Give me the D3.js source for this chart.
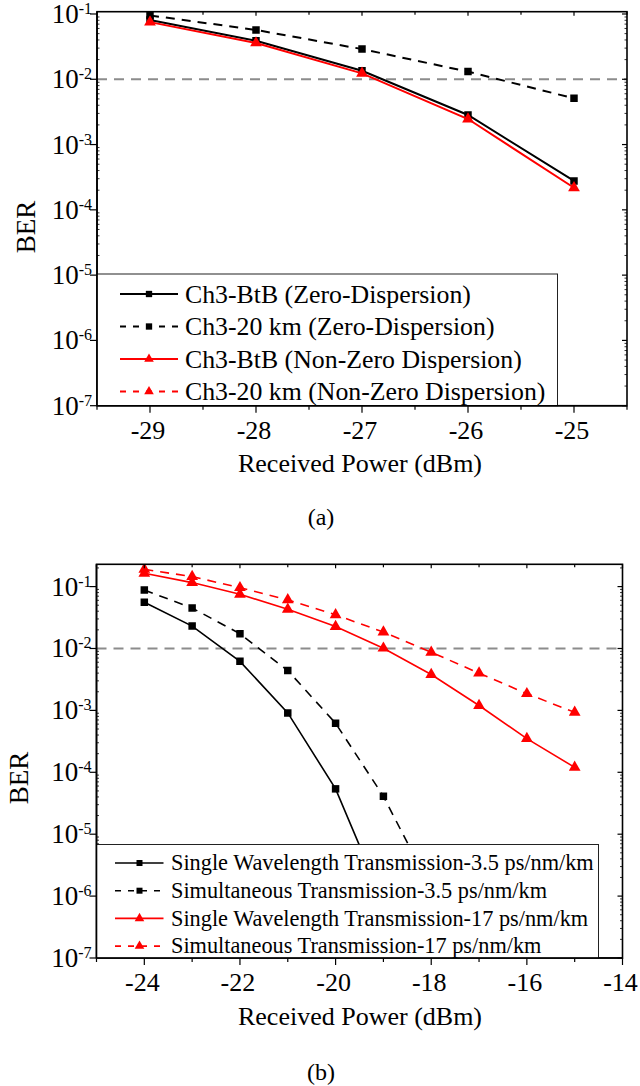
<!DOCTYPE html>
<html>
<head>
<meta charset="utf-8">
<script src="https://cdn.jsdelivr.net/npm/d3@7"></script>
<style>
  body { margin: 0; background: #fff; }
</style>
</head>
<body>
<svg id="fig" width="640" height="1086" font-family="Liberation Serif, Times New Roman, DejaVu Serif, serif"></svg>
<script>
// ---------- Panel (a): channel 3, zero vs non-zero dispersion fibre ----------
const powerA = [-29, -28, -27, -26, -25];
const btbZeroA = [0.081, 0.039, 0.0135, 0.00284, 0.000277];
const km20ZeroA = [0.095, 0.057, 0.029, 0.0131, 0.0051];
const btbNonZeroA = [0.075, 0.036, 0.0123, 0.00246, 0.000218];
const km20NonZeroA = [];          // no visible points in this panel
const legendA = [
  "Ch3-BtB (Zero-Dispersion)",
  "Ch3-20 km (Zero-Dispersion)",
  "Ch3-BtB (Non-Zero Dispersion)",
  "Ch3-20 km (Non-Zero Dispersion)"
];
const xTicksA = [-29, -28, -27, -26, -25];

// ---------- Panel (b): single-wavelength vs simultaneous transmission ----------
const powerSingle35 = [-24, -23, -22, -21, -20, -19];
const single35 = [0.056, 0.023, 0.0062, 0.00091, 5.4e-5, 8e-7];
const powerSimul35 = [-24, -23, -22, -21, -20, -19, -18];
const simul35 = [0.088, 0.045, 0.0173, 0.0044, 0.00062, 4.1e-5, 1.3e-6];
const power17 = [-24, -23, -22, -21, -20, -19, -18, -17, -16, -15];
const single17 = [0.164, 0.116, 0.075, 0.043, 0.0226, 0.0101, 0.0038, 0.0012, 0.00035, 0.00012];
const simul17 = [0.19, 0.145, 0.096, 0.061, 0.035, 0.0184, 0.0087, 0.0040, 0.00186, 0.00093];
const legendB = [
  "Single Wavelength Transmission-3.5 ps/nm/km",
  "Simultaneous Transmission-3.5 ps/nm/km",
  "Single Wavelength Transmission-17 ps/nm/km",
  "Simultaneous Transmission-17 ps/nm/km"
];
const xTicksB = [-24, -22, -20, -18, -16, -14];

// shared
const yTickExps = [-1, -2, -3, -4, -5, -6, -7];
const fecLimit = 1e-2;

const svg = d3.select("#fig");

function drawPanel(o) {
  const g = svg.append("g");
  const x = d3.scaleLinear().domain(o.xDomain).range(o.xRange);
  const y = d3.scaleLog().domain(o.yDomain).range(o.yRange);
  const [x0, x1] = o.xRange;
  const [yb, yt] = o.yRange;

  const clipId = "clip-" + o.id;
  g.append("clipPath").attr("id", clipId)
    .append("rect").attr("x", x0).attr("y", yt).attr("width", x1 - x0).attr("height", yb - yt);

  // FEC threshold line
  g.append("line")
    .attr("x1", x0).attr("x2", x1)
    .attr("y1", y(fecLimit)).attr("y2", y(fecLimit))
    .attr("stroke", "#8c8c8c").attr("stroke-width", 2)
    .attr("stroke-dasharray", "10,7");

  // data series
  const plot = g.append("g").attr("clip-path", `url(#${clipId})`);
  o.series.forEach(s => {
    const pts = s.x.map((v, i) => [v, s.y[i]]);
    if (!pts.length) return;
    const line = d3.line().x(d => x(d[0])).y(d => y(d[1]));
    plot.append("path").attr("d", line(pts))
      .attr("fill", "none").attr("stroke", s.color)
      .attr("stroke-width", o.lineWidth)
      .attr("stroke-dasharray", s.dash ? o.dash : null);
    const sym = s.marker === "square"
      ? d3.symbol(d3.symbolSquare, o.squareSize)
      : d3.symbol(d3.symbolTriangle, o.triSize);
    plot.selectAll(null).data(pts).enter().append("path")
      .attr("d", sym)
      .attr("transform", d => `translate(${x(d[0])},${y(d[1])})`)
      .attr("fill", s.color);
  });

  // frame
  g.append("rect").attr("x", x0).attr("y", yt).attr("width", x1 - x0).attr("height", yb - yt)
    .attr("fill", "none").attr("stroke", "#000").attr("stroke-width", 1.6);

  // x ticks: bottom outward, top inward
  const tk = g.append("g").attr("stroke", "#000").attr("stroke-width", 1.2);
  o.xMajor.forEach(v => {
    tk.append("line").attr("x1", x(v)).attr("x2", x(v)).attr("y1", yb).attr("y2", yb + 7);
    tk.append("line").attr("x1", x(v)).attr("x2", x(v)).attr("y1", yt).attr("y2", yt + 4);
  });
  o.xMinor.forEach(v => {
    tk.append("line").attr("x1", x(v)).attr("x2", x(v)).attr("y1", yb).attr("y2", yb + 4);
    tk.append("line").attr("x1", x(v)).attr("x2", x(v)).attr("y1", yt).attr("y2", yt + 3);
  });
  // y ticks: majors outward on the left, minors inward on both sides
  yTickExps.forEach(e => {
    const v = Math.pow(10, e);
    tk.append("line").attr("x1", x0 - 7).attr("x2", x0).attr("y1", y(v)).attr("y2", y(v));
    tk.append("line").attr("x1", x1 - 5).attr("x2", x1).attr("y1", y(v)).attr("y2", y(v));
    for (let m = 2; m <= 9; m++) {
      const mv = m * v;
      if (mv > o.yDomain[1]) continue;
      tk.append("line").attr("x1", x0).attr("x2", x0 + 2.5).attr("y1", y(mv)).attr("y2", y(mv))
        .attr("stroke-width", 0.8);
      tk.append("line").attr("x1", x1 - 2.5).attr("x2", x1).attr("y1", y(mv)).attr("y2", y(mv))
        .attr("stroke-width", 0.8);
    }
  });

  // x tick labels
  o.xMajor.forEach(v => {
    g.append("text").attr("x", x(v) - 2).attr("y", yb + 33)
      .attr("text-anchor", "middle").attr("font-size", 26).text(v);
  });
  // y tick labels 10^e
  yTickExps.forEach(e => {
    const t = g.append("text").attr("x", x0 - 5).attr("y", y(Math.pow(10, e)) + 9)
      .attr("text-anchor", "end").attr("font-size", 27);
    t.append("tspan").text("10");
    t.append("tspan").attr("dy", -9).attr("font-size", 16).text(e);
  });

  // axis titles
  g.append("text").attr("x", 360).attr("y", o.xTitleY)
    .attr("text-anchor", "middle").attr("font-size", 26).text("Received Power (dBm)");
  g.append("text")
    .attr("transform", `translate(${o.yTitleX},${o.yTitleY}) rotate(-90)`)
    .attr("text-anchor", "middle").attr("font-size", 27).text("BER");
  g.append("text").attr("x", 321).attr("y", o.capY)
    .attr("text-anchor", "middle").attr("font-size", 24).text(o.caption);

  // legend
  const L = o.legend;
  const lg = g.append("g");
  lg.append("rect").attr("x", L.x0).attr("y", L.y0).attr("width", L.x1 - L.x0).attr("height", yb - L.y0)
    .attr("fill", "#fff").attr("stroke", "#222").attr("stroke-width", 1);
  o.series.forEach((s, i) => {
    const ry = L.rowY0 + i * L.rowGap;
    lg.append("line").attr("x1", L.lineX0).attr("x2", L.lineX1).attr("y1", ry).attr("y2", ry)
      .attr("stroke", s.color).attr("stroke-width", o.lineWidth)
      .attr("stroke-dasharray", s.dash ? L.dash : null);
    const sym = s.marker === "square"
      ? d3.symbol(d3.symbolSquare, L.squareSize)
      : d3.symbol(d3.symbolTriangle, L.triSize);
    lg.append("path").attr("d", sym).attr("transform", `translate(${L.markX},${ry})`).attr("fill", s.color);
    lg.append("text").attr("x", L.textX).attr("y", ry).attr("dy", "0.33em")
      .attr("font-size", L.fontSize).text(o.labels[i]);
  });
  // axis lines drawn again so they stay crisp over the legend box
  g.append("line").attr("x1", x0).attr("x2", x1).attr("y1", yb).attr("y2", yb)
    .attr("stroke", "#000").attr("stroke-width", 1.6);
  g.append("line").attr("x1", x0).attr("x2", x0).attr("y1", yt).attr("y2", yb)
    .attr("stroke", "#000").attr("stroke-width", 1.6);
}

drawPanel({
  id: "a",
  xDomain: [-29.5, -24.5], xRange: [97, 627],
  yDomain: [1e-7, Math.pow(10, -0.965)], yRange: [405.7, 11.7],
  xMajor: xTicksA, xMinor: [-29.5, -28.5, -27.5, -26.5, -25.5, -24.5],
  lineWidth: 2, dash: "9,7", squareSize: 56, triSize: 60,
  series: [
    { x: powerA, y: btbZeroA, color: "#000", dash: false, marker: "square" },
    { x: powerA, y: km20ZeroA, color: "#000", dash: true, marker: "square" },
    { x: powerA, y: btbNonZeroA, color: "#ff0000", dash: false, marker: "triangle" },
    { x: powerA.slice(0, km20NonZeroA.length), y: km20NonZeroA, color: "#ff0000", dash: true, marker: "triangle" }
  ],
  labels: legendA,
  legend: { x0: 97, y0: 274, x1: 557.5, rowY0: 294, rowGap: 32.5,
            lineX0: 120, lineX1: 178, markX: 149, textX: 185, fontSize: 25.8,
            dash: "6,7", squareSize: 40, triSize: 40 },
  xTitleY: 472, yTitleX: 35, yTitleY: 227, capY: 525, caption: "(a)"
});

drawPanel({
  id: "b",
  xDomain: [-25, -14], xRange: [96.5, 622.5],
  yDomain: [1e-7, Math.pow(10, -0.64)], yRange: [958, 564.3],
  xMajor: xTicksB, xMinor: [-25, -23, -21, -19, -17, -15],
  lineWidth: 1.6, dash: "9,7", squareSize: 56, triSize: 60,
  series: [
    { x: powerSingle35, y: single35, color: "#000", dash: false, marker: "square" },
    { x: powerSimul35, y: simul35, color: "#000", dash: true, marker: "square" },
    { x: power17, y: single17, color: "#ff0000", dash: false, marker: "triangle" },
    { x: power17, y: simul17, color: "#ff0000", dash: true, marker: "triangle" }
  ],
  labels: legendB,
  legend: { x0: 96.5, y0: 844.5, x1: 598.5, rowY0: 863, rowGap: 27.7,
            lineX0: 115, lineX1: 163.5, markX: 139.5, textX: 171, fontSize: 22.3,
            dash: "6,7", squareSize: 36, triSize: 40 },
  xTitleY: 1025, yTitleX: 28, yTitleY: 778, capY: 1080, caption: "(b)"
});
</script>
</body>
</html>
